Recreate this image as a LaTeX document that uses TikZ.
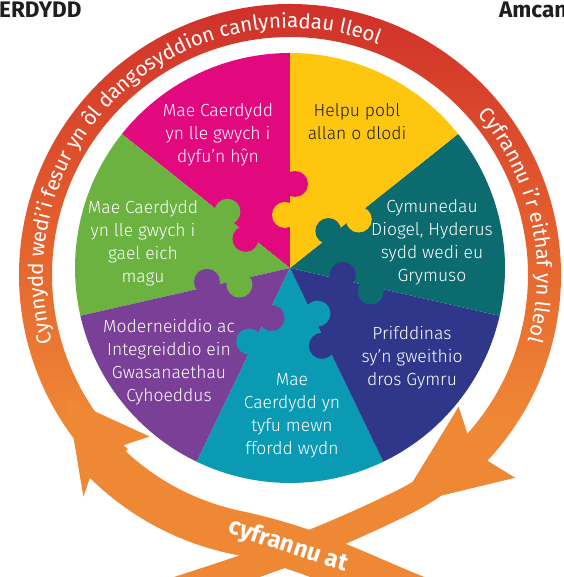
\documentclass[tikz,border=0pt]{standalone}
\usepackage{fontspec}
\setmainfont{Fira Sans}
\newfontfamily\segfam{Fira Sans}[UprightFont=* Light]
\usetikzlibrary{calc,decorations.text}
\definecolor{cpink}{HTML}{E2097E}
\definecolor{cyellow}{HTML}{FEC60F}
\definecolor{cdteal}{HTML}{0C6B6E}
\definecolor{cnavy}{HTML}{30368A}
\definecolor{cteal}{HTML}{0A9AB3}
\definecolor{cpurple}{HTML}{7A3F97}
\definecolor{cgreen}{HTML}{6CB241}
\definecolor{cred}{HTML}{CD2A2A}
\definecolor{cmid}{HTML}{E25A2D}
\definecolor{corange}{HTML}{EF8835}
\definecolor{cink}{HTML}{1E1E1E}
\pgfdeclareverticalshading{ringfade}{100bp}{color(0bp)=(corange); color(30bp)=(corange); color(52bp)=(cmid); color(75bp)=(cred); color(100bp)=(cred)}
\newcommand{\segfont}{\segfam\fontsize{17.5}{23}\selectfont}
\newcommand{\ringfont}{\fontsize{20.5}{20.5}\selectfont}
\tikzset{sg/.style={align=center, text=white, font=\segfont, inner sep=0pt}}
\tikzset{rb/.style={draw=corange, line width=#1}}
\tikzset{ah/.style={fill=corange}}
\tikzset{hd/.style={anchor=base west, inner sep=0pt, text=cink, font=\bfseries\fontsize{22.5}{22.5}\selectfont}}

\begin{document}
\begin{tikzpicture}[x=1pt,y=1pt]
\useasboundingbox (0,0) rectangle (563,577);
\clip (0,0) rectangle (563,577);
\coordinate (w) at (290,309);
\coordinate (r) at (290,302);

% ring round the wheel
\shade[shading=ringfade]
  ($(r)+(227:271pt)$) arc[start angle=227, end angle=-44, radius=271pt]
  -- ($(r)+(-44:238pt)$) arc[start angle=-44, end angle=227, radius=238pt] -- cycle;

% ribbons below
\draw[rb=27pt] ($(r)+(-41:254pt)$) arc[start angle=-41, end angle=-64, radius=254pt]
  to[out=206, in=18] (150,-22);
\draw[rb=44pt] ($(r)+(222:263pt)$) arc[start angle=222, end angle=258, radius=263pt]
  to[out=-12, in=158] (420,-22);

% arrow heads
\fill[ah] ($(r)+(209:255pt)$) -- ($(r)+(229:214pt)$) -- ($(r)+(223:262pt)$) -- ($(r)+(227:303pt)$) -- cycle;
\fill[ah] ($(r)+(-65:255pt)$) -- ($(r)+(-38:214pt)$) -- ($(r)+(-44:255pt)$) -- ($(r)+(-42:303pt)$) -- cycle;

% wheel
\foreach \c/\p [count=\k from 0] in {cpink/cyellow, cgreen/cpink, cpurple/cgreen, cteal/cpurple, cnavy/cteal, cdteal/cnavy, cyellow/cdteal}{
  \pgfmathsetmacro\a{90+\k*360/7}
  \fill[\c] (w) -- ($(w)+(\a:215pt)$) arc[start angle=\a, delta angle=51.4286, radius=215pt] -- cycle;
}
% puzzle knobs
\foreach \c/\p [count=\k from 0] in {cpink/cyellow, cgreen/cpink, cpurple/cgreen, cteal/cpurple, cnavy/cteal, cdteal/cnavy, cyellow/cdteal}{
  \pgfmathsetmacro\a{90+\k*360/7}
  \pgfmathsetmacro\b{\a-90}
  \pgfmathsetmacro\e{\a+90}
  \fill[\c] ($(w)+(\a:84pt)+(\b:5pt)$) circle[radius=13pt];
  \fill[\p] ($(w)+(\a:53pt)+(\e:5pt)$) circle[radius=13pt];
}

\node[sg] (t1) at (218,442) {Mae Caerdydd\\yn lle gwych i\\dyfu’n hŷn};
\node[sg, text=cink] (t2) at (357,455) {Helpu pobl\\allan o dlodi};
\node[sg] (t3) at (432,335) {Cymunedau\\Diogel, Hyderus\\sydd wedi eu\\Grymuso};
\node[sg] (t4) at (412,219) {Prifddinas\\sy’n gweithio\\dros Gymru};
\node[sg] (t5) at (292,161) {Mae\\Caerdydd yn\\tyfu mewn\\ffordd wydn};
\node[sg] (t6) at (169,215) {Moderneiddio ac\\Integreiddio ein\\Gwasanaethau\\Cyhoeddus};
\node[sg] (t7) at (143,334) {Mae Caerdydd\\yn lle gwych i\\gael eich\\magu};

% text on the ring
\path[decorate, decoration={text along path, text align=center, text color=white,
  text={|\ringfont|Cynnydd wedi’i fesur yn ôl dangosyddion canlyniadau lleol}}]
  ($(r)+(215:247pt)$) arc[start angle=215, end angle=50, radius=247pt];
\path[decorate, decoration={text along path, text align=center, text color=white,
  text={|\ringfont|Cyfrannu i’r eithaf yn lleol}}]
  ($(r)+(60:247pt)$) arc[start angle=60, end angle=-35, radius=247pt];
\node[text=white, font=\bfseries\fontsize{24}{24}\selectfont, rotate=-18] (cy) at (288,31) {cyfrannu at};

\node[hd] (h1) at (-1,559) {ERDYDD};
\node[hd] (h2) at (499,559) {Amcan};
\end{tikzpicture}
\end{document}
